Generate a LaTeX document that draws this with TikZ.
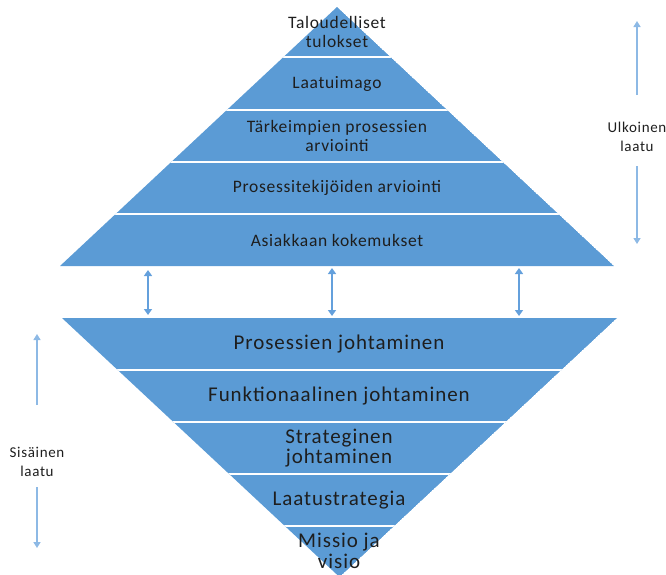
\documentclass[tikz,border=0pt]{standalone}
\usepackage{fontspec}
\setmainfont{Carlito}
\usetikzlibrary{arrows.meta}
\definecolor{band}{RGB}{91,155,213}
\definecolor{arrowblue}{RGB}{100,160,220}
\definecolor{sideblue}{RGB}{141,185,229}
\definecolor{txt}{RGB}{30,30,30}
\tikzset{
  upper/.style={font=\fontsize{17.5}{19}\selectfont\addfontfeature{LetterSpace=4}, text=txt, align=center, inner sep=0pt},
  lower/.style={font=\fontsize{21}{20.5}\selectfont\addfontfeature{LetterSpace=4.5}, text=txt, align=center, inner sep=0pt},
  side/.style={font=\fontsize{15}{19}\selectfont\addfontfeature{LetterSpace=4.5}, text=txt, align=center, inner sep=0pt},
  sep/.style={white, line width=2pt},
  midarrow/.style={arrowblue, line width=2.5pt, {Triangle[length=6pt,width=8pt]}-{Triangle[length=6pt,width=8pt]}},
  sidearrow/.style={sideblue, line width=1.5pt, -{Triangle[length=6pt,width=7pt]}}
}
\begin{document}
\begin{tikzpicture}[x=1pt,y=-1pt]
\useasboundingbox (0,0) rectangle (666,574);
% upper triangle
\begin{scope}
  \clip (337,7) -- (614,266) -- (60,266) -- cycle;
  \fill[band] (337,7) -- (614,266) -- (60,266) -- cycle;
  \foreach \yy in {57,109.5,162,214}{\draw[sep] (0,\yy) -- (666,\yy);}
\end{scope}
% lower triangle
\begin{scope}
  \clip (62,318) -- (617,318) -- (339.5,577) -- cycle;
  \fill[band] (62,318) -- (617,318) -- (339.5,577) -- cycle;
  \foreach \yy in {370,422,474,526}{\draw[sep] (0,\yy) -- (666,\yy);}
\end{scope}
% upper texts
\node[upper] (u1) at (337,32) {Taloudelliset\\tulokset};
\node[upper] (u2) at (337,84) {Laatuimago};
\node[upper] (u3) at (337,136) {Tärkeimpien prosessien\\arviointi};
\node[upper] (u4) at (337,188) {Prosessitekijöiden arviointi};
\node[upper] (u5) at (337,240) {Asiakkaan kokemukset};
% lower texts
\node[lower] (l1) at (339,344) {Prosessien johtaminen};
\node[lower] (l2) at (339,396) {Funktionaalinen johtaminen};
\node[lower] (l3) at (339,448) {Strateginen\\johtaminen};
\node[lower] (l4) at (339,500) {Laatustrategia};
\node[lower] (l5) at (339,551) {Missio ja\\visio};
% middle arrows
\coordinate (a1t) at (148,270); \coordinate (a1b) at (148,315);
\coordinate (a2t) at (332,268); \coordinate (a2b) at (332,316);
\coordinate (a3t) at (519,268); \coordinate (a3b) at (519,316);
\draw[midarrow] (a1t) -- (a1b);
\draw[midarrow] (a2t) -- (a2b);
\draw[midarrow] (a3t) -- (a3b);
% right side
\node[side] (ul) at (637,137) {Ulkoinen\\laatu};
\coordinate (r1) at (637,95); \coordinate (r2) at (637,21);
\coordinate (r3) at (637,166); \coordinate (r4) at (637,244);
\draw[sidearrow] (r1) -- (r2);
\draw[sidearrow] (r3) -- (r4);
% left side
\node[side] (si) at (37,462) {Sisäinen\\laatu};
\coordinate (s1) at (37,405); \coordinate (s2) at (37,334);
\coordinate (s3) at (37,487); \coordinate (s4) at (37,548);
\draw[sidearrow] (s1) -- (s2);
\draw[sidearrow] (s3) -- (s4);
\end{tikzpicture}
\end{document}
